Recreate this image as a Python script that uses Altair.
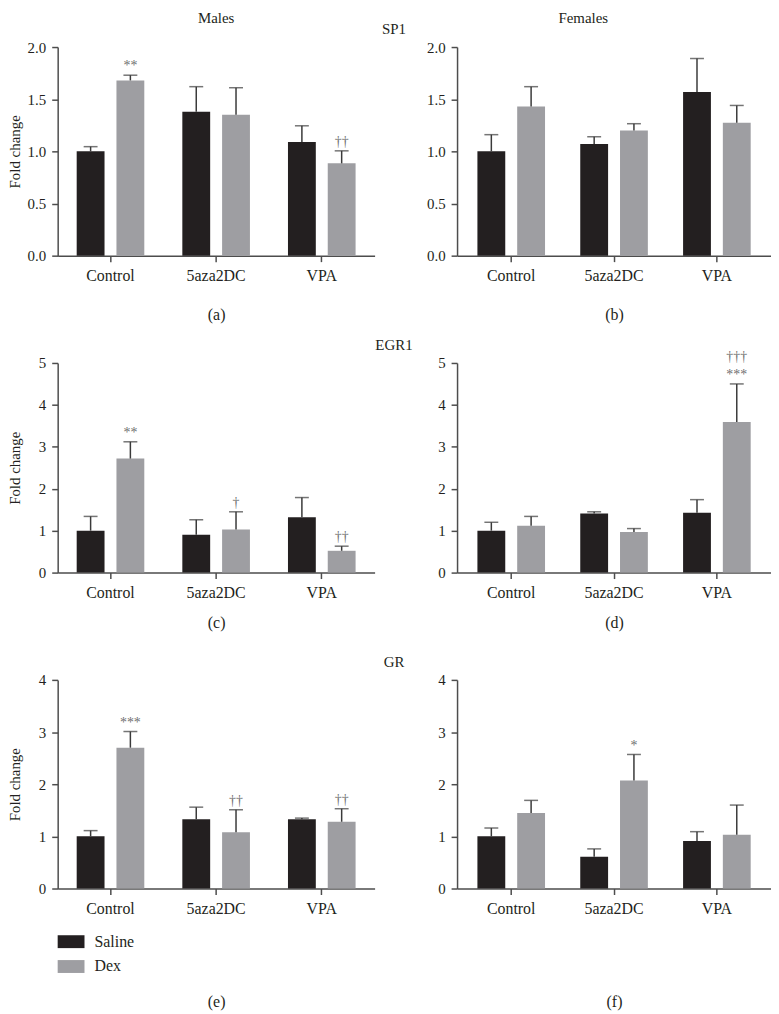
import altair as alt
import pandas as pd

# ---------------- data ----------------
treatments = ["Control", "5aza2DC", "VPA"]
groups = ["Saline", "Dex"]
group_colors = ["#231f20", "#9e9ea2"]

column_titles = ["Males", "Females"]
gene_titles = ["SP1", "EGR1", "GR"]
panel_labels = ["(a)", "(b)", "(c)", "(d)", "(e)", "(f)"]
y_title = "Fold change"

# order: Control-Saline, Control-Dex, 5aza2DC-Saline, 5aza2DC-Dex, VPA-Saline, VPA-Dex
sp1_males_mean = [1.00, 1.68, 1.38, 1.35, 1.09, 0.885]
sp1_males_upper = [1.045, 1.73, 1.62, 1.61, 1.245, 1.005]
sp1_males_sig = ["", "**", "", "", "", "††"]
sp1_males_sig2 = ["", "", "", "", "", ""]

sp1_females_mean = [1.00, 1.43, 1.07, 1.20, 1.57, 1.275]
sp1_females_upper = [1.16, 1.62, 1.14, 1.265, 1.89, 1.44]
sp1_females_sig = ["", "", "", "", "", ""]
sp1_females_sig2 = ["", "", "", "", "", ""]

egr1_males_mean = [1.00, 2.72, 0.90, 1.03, 1.32, 0.52]
egr1_males_upper = [1.34, 3.12, 1.26, 1.45, 1.79, 0.63]
egr1_males_sig = ["", "**", "", "†", "", "††"]
egr1_males_sig2 = ["", "", "", "", "", ""]

egr1_females_mean = [1.00, 1.12, 1.41, 0.97, 1.43, 3.59]
egr1_females_upper = [1.20, 1.34, 1.45, 1.05, 1.74, 4.50]
egr1_females_sig = ["", "", "", "", "", "***"]
egr1_females_sig2 = ["", "", "", "", "", "†††"]

gr_males_mean = [1.00, 2.70, 1.33, 1.08, 1.33, 1.28]
gr_males_upper = [1.11, 3.01, 1.56, 1.51, 1.35, 1.53]
gr_males_sig = ["", "***", "", "††", "", "††"]
gr_males_sig2 = ["", "", "", "", "", ""]

gr_females_mean = [1.00, 1.45, 0.61, 2.07, 0.91, 1.03]
gr_females_upper = [1.16, 1.69, 0.76, 2.57, 1.09, 1.60]
gr_females_sig = ["", "", "", "*", "", ""]
gr_females_sig2 = ["", "", "", "", "", ""]

sp1_ticks = [0, 0.5, 1.0, 1.5, 2.0]
egr1_ticks = [0, 1, 2, 3, 4, 5]
gr_ticks = [0, 1, 2, 3, 4]

# ---------------- style ----------------
FONT = "Liberation Serif"
TXT = "#231f20"
AXC = "#4d4d4d"
ERRC = "#3a3a3a"
SIGC = "#6f6f6f"
LEFT_W, RIGHT_W, MID_W = 319, 316, 83


def title_params(text, offset, dx=0):
    return alt.TitleParams(text=text, anchor="middle", frame="group", offset=offset, dx=dx,
                           fontSize=15, font=FONT, fontWeight="normal", color=TXT)


def panel(mean, upper, sig, sig2, ymax, yvals, yfmt, label, left, height, title_pad,
          legend=False, title=None):
    width = LEFT_W if left else RIGHT_W
    pi, po = (0.36, 0.18) if left else (0.343, 0.198)
    df = pd.DataFrame({
        "treatment": [t for t in treatments for _ in groups],
        "group": groups * len(treatments),
        "mean": mean, "upper": upper, "sig": sig, "sig2": sig2,
    })
    base = alt.Chart(df)
    x = alt.X("treatment:N", sort=treatments,
              scale=alt.Scale(paddingInner=pi, paddingOuter=po),
              axis=alt.Axis(title=label, titlePadding=title_pad, labelAngle=0,
                            labelPadding=6, labelFontSize=16, titleFontSize=16))
    xo = alt.XOffset("group:N", sort=groups,
                     scale=alt.Scale(paddingInner=0.3, paddingOuter=0))
    yaxis = alt.Axis(values=yvals, format=yfmt, title=y_title if left else None,
                     titlePadding=4, minExtent=31, maxExtent=31, labelPadding=6,
                     labelFontSize=15, titleFontSize=15)
    yscale = alt.Scale(domain=[0, ymax], nice=False)
    if legend:
        leg = alt.Legend(orient="none", legendX=0, legendY=250, title=None,
                         symbolType="M-1,-0.48H1V0.48H-1Z", symbolSize=729,
                         symbolStrokeWidth=0, labelFontSize=16, labelFont=FONT,
                         labelColor=TXT, labelOffset=10, rowPadding=3, padding=0)
    else:
        leg = None
    color = alt.Color("group:N", sort=groups,
                      scale=alt.Scale(domain=groups, range=group_colors), legend=leg)
    bars = base.mark_bar().encode(
        x=x, xOffset=xo, y=alt.Y("mean:Q", scale=yscale, axis=yaxis), color=color)
    stems = base.mark_rule(color=ERRC, strokeWidth=1.5).encode(
        x=x, xOffset=xo, y=alt.Y("mean:Q", scale=yscale, axis=yaxis), y2="upper:Q")
    caps = base.mark_tick(color=ERRC, thickness=1.5, size=14).encode(
        x=x, xOffset=xo, y=alt.Y("upper:Q", scale=yscale, axis=yaxis))
    stars = base.transform_filter("datum.sig != ''").mark_text(
        font=FONT, fontSize=14, color=SIGC, baseline="bottom", dy=-2).encode(
        x=x, xOffset=xo, y=alt.Y("upper:Q", scale=yscale, axis=yaxis), text="sig:N")
    stars2 = base.transform_filter("datum.sig2 != ''").mark_text(
        font=FONT, fontSize=14, color=SIGC, baseline="bottom", dy=-20).encode(
        x=x, xOffset=xo, y=alt.Y("upper:Q", scale=yscale, axis=yaxis), text="sig2:N")
    props = dict(width=width, height=height)
    if title is not None:
        props["title"] = title
    return alt.layer(bars, stems, caps, stars, stars2).properties(**props)


def spacer(text, height):
    df = pd.DataFrame({"t": [text]})
    return alt.Chart(df).mark_text(opacity=0).encode(text="t:N").properties(
        width=MID_W, height=height, title=title_params(text, 10, dx=-22))


H1, H2, H3 = 210, 211, 210

a = panel(sp1_males_mean, sp1_males_upper, sp1_males_sig, sp1_males_sig2, 2.0,
          sp1_ticks, ".1f", panel_labels[0], True, H1, 23,
          title=title_params(column_titles[0], 14))
b = panel(sp1_females_mean, sp1_females_upper, sp1_females_sig, sp1_females_sig2, 2.0,
          sp1_ticks, ".1f", panel_labels[1], False, H1, 23,
          title=title_params(column_titles[1], 14, dx=-31))
c = panel(egr1_males_mean, egr1_males_upper, egr1_males_sig, egr1_males_sig2, 5,
          egr1_ticks, "d", panel_labels[2], True, H2, 14)
d = panel(egr1_females_mean, egr1_females_upper, egr1_females_sig, egr1_females_sig2, 5,
          egr1_ticks, "d", panel_labels[3], False, H2, 14)
e = panel(gr_males_mean, gr_males_upper, gr_males_sig, gr_males_sig2, 4,
          gr_ticks, "d", panel_labels[4], True, H3, 78, legend=True)
f = panel(gr_females_mean, gr_females_upper, gr_females_sig, gr_females_sig2, 4,
          gr_ticks, "d", panel_labels[5], False, H3, 78)

chart = alt.concat(
    a, spacer(gene_titles[0], H1), b,
    c, spacer(gene_titles[1], H2), d,
    e, spacer(gene_titles[2], H3), f,
    columns=3, align="each", bounds="flush",
    spacing={"row": 108, "column": 0},
).resolve_scale(color="independent").resolve_legend(color="independent").properties(
    padding=0
).configure_view(stroke=None).configure_axis(
    domainColor=AXC, domainWidth=1.5, tickColor=AXC, tickWidth=1.5, tickSize=6,
    grid=False, labelFont=FONT, titleFont=FONT, labelColor=TXT, titleColor=TXT,
    titleFontWeight="normal",
).configure_text(font=FONT)

chart.save("out.html", embed_options={"renderer": "svg", "actions": False})
